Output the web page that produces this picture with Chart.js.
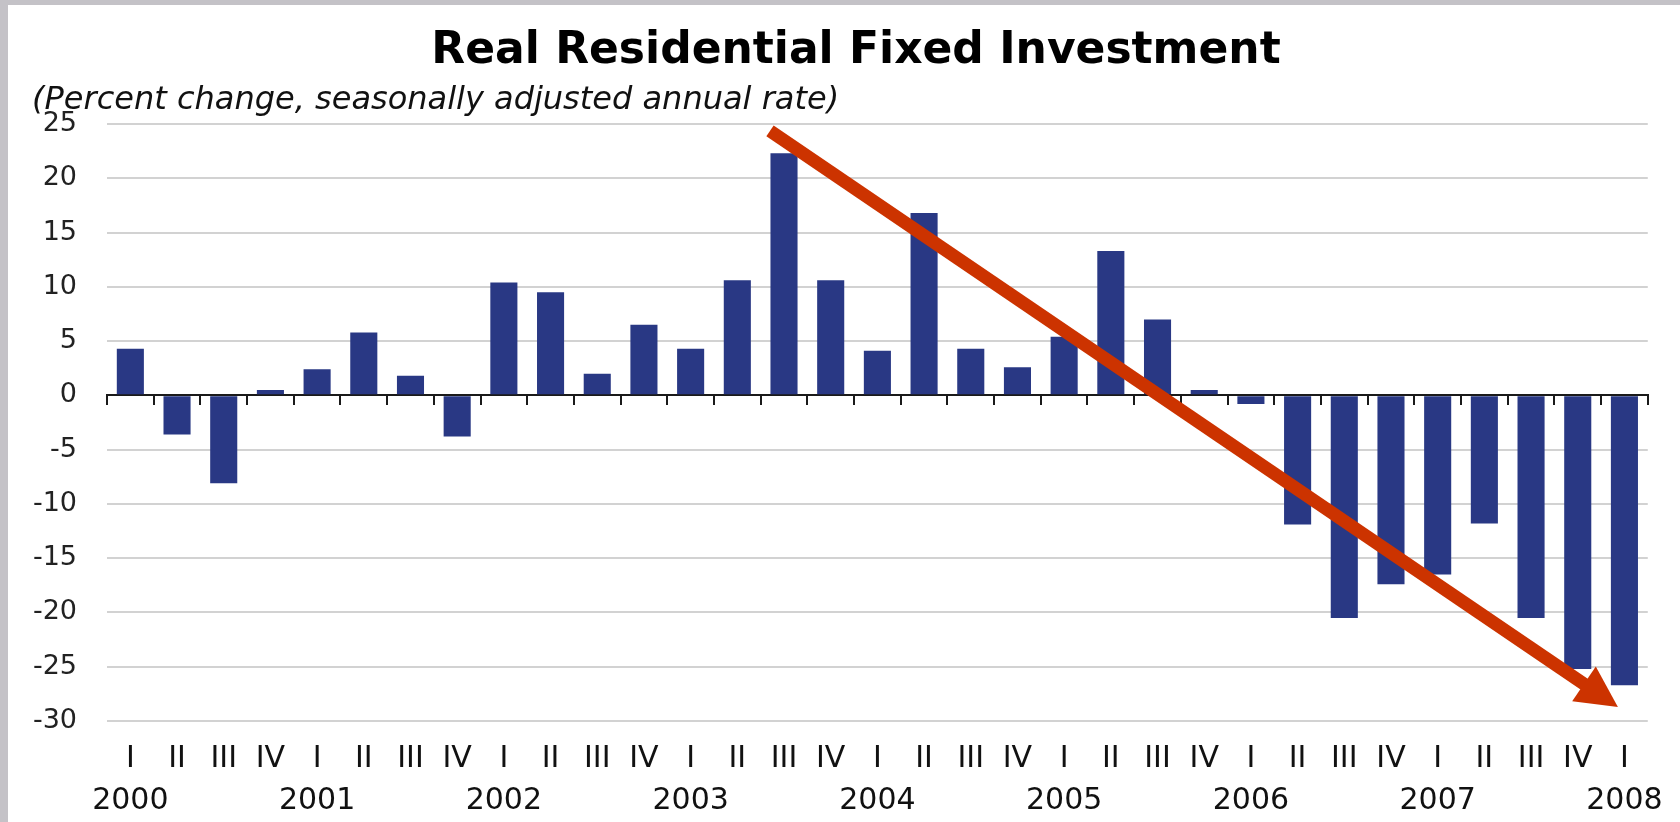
<!DOCTYPE html>
<html>
<head>
<meta charset="utf-8">
<script src="https://cdn.jsdelivr.net/npm/chart.js@4.4.1/dist/chart.umd.min.js"></script>
<style>
html,body{margin:0;padding:0;background:#C4C2C7;overflow:hidden;width:1680px;height:822px}
#wrap{position:absolute;left:8px;top:5px;width:1672px;height:817px;background:#ffffff}
canvas{display:block}
</style>
</head>
<body>
<div id="wrap"><canvas id="c" width="1672" height="817"></canvas></div>
<script>
// ---- data ----
const titleText = "Real Residential Fixed Investment";
const subtitleText = "(Percent change, seasonally adjusted annual rate)";
const quarterLabels = ["I","II","III","IV","I","II","III","IV","I","II","III","IV","I","II","III","IV",
  "I","II","III","IV","I","II","III","IV","I","II","III","IV","I","II","III","IV","I"];
const yearLabels = ["2000","","","","2001","","","","2002","","","","2003","","","",
  "2004","","","","2005","","","","2006","","","","2007","","","","2008"];
const values = [4.3,-3.6,-8.1,0.5, 2.4,5.8,1.8,-3.8, 10.4,9.5,2.0,6.5, 4.3,10.6,22.3,10.6,
  4.1,16.8,4.3,2.6, 5.4,13.3,7.0,0.5, -0.8,-11.9,-20.5,-17.4, -16.5,-11.8,-20.5,-25.2, -26.7];
const yMin = -30, yMax = 25, yStep = 5;
// trend arrow, in data coordinates [category index, value]
const arrowFrom = [13.70, 24.37];
const arrowTo = [31.86, -28.71];

const labels = quarterLabels.map((q, i) => yearLabels[i] ? [q, yearLabels[i]] : q);

const headerPlugin = {
  id: 'header',
  afterDraw(chart) {
    const ctx = chart.ctx;
    ctx.save();
    ctx.fillStyle = '#000';
    ctx.textAlign = 'center';
    ctx.textBaseline = 'middle';
    ctx.font = 'bold 44px "DejaVu Sans"';
    ctx.fillText(titleText, 848, 47);
    ctx.textAlign = 'left';
    ctx.font = 'oblique 32px "DejaVu Sans"';
    ctx.fillStyle = '#111';
    ctx.fillText(subtitleText, 24, 96);
    ctx.restore();
  }
};

const arrowPlugin = {
  id: 'trendArrow',
  afterDatasetsDraw(chart) {
    const {ctx, scales} = chart;
    const x0 = scales.x.getPixelForValue(arrowFrom[0]);
    const y0 = scales.y.getPixelForValue(arrowFrom[1]);
    const x1 = scales.x.getPixelForValue(arrowTo[0]);
    const y1 = scales.y.getPixelForValue(arrowTo[1]);
    const dx = x1 - x0, dy = y1 - y0, len = Math.hypot(dx, dy);
    const ux = dx / len, uy = dy / len, nx = -uy, ny = ux;
    const headLen = 41, headHalf = 21, shaft = 13;
    const bx = x1 - ux * headLen, by = y1 - uy * headLen;
    ctx.save();
    ctx.fillStyle = '#CC3300';
    ctx.beginPath();
    ctx.moveTo(x0 + nx * shaft / 2, y0 + ny * shaft / 2);
    ctx.lineTo(bx + ux * 2 + nx * shaft / 2, by + uy * 2 + ny * shaft / 2);
    ctx.lineTo(bx + ux * 2 - nx * shaft / 2, by + uy * 2 - ny * shaft / 2);
    ctx.lineTo(x0 - nx * shaft / 2, y0 - ny * shaft / 2);
    ctx.closePath();
    ctx.fill();
    ctx.beginPath();
    ctx.moveTo(x1, y1);
    ctx.lineTo(bx + nx * headHalf, by + ny * headHalf);
    ctx.lineTo(bx - nx * headHalf, by - ny * headHalf);
    ctx.closePath();
    ctx.fill();
    ctx.restore();
  }
};

new Chart(document.getElementById('c'), {
  type: 'bar',
  data: {
    labels: labels,
    datasets: [{
      data: values,
      backgroundColor: '#293884',
      borderWidth: 0,
      barPercentage: 0.58,
      categoryPercentage: 1.0,
      xAxisID: 'x',
      yAxisID: 'y'
    }]
  },
  options: {
    responsive: false,
    animation: false,
    devicePixelRatio: 1,
    layout: { padding: { top: 119, right: 26, left: 0, bottom: 0 } },
    plugins: {
      legend: { display: false },
      tooltip: { enabled: false },
      title: { display: false }
    },
    scales: {
      x: {
        type: 'category',
        position: 'bottom',
        offset: true,
        grid: { display: false, drawTicks: false, offset: true },
        border: { display: false },
        ticks: {
          autoSkip: false, maxRotation: 0, minRotation: 0,
          color: '#111',
          padding: 17,
          font: { family: '"DejaVu Sans"', size: 30, lineHeight: 1.4 }
        },
        afterFit(scale) { scale.height = 101; }
      },
      x2: {
        type: 'category',
        position: { y: 0 },
        offset: true,
        grid: { offset: true, drawOnChartArea: false, drawTicks: true, tickLength: 9, color: '#1a1a1a', lineWidth: 2 },
        border: { display: true, color: '#1a1a1a', width: 2 },
        ticks: { display: false }
      },
      y: {
        type: 'linear',
        min: yMin, max: yMax,
        grid: { color: '#D2D2D2', lineWidth: 2, drawTicks: false },
        border: { display: false },
        ticks: {
          stepSize: yStep,
          color: '#222',
          padding: 30,
          font: { family: '"DejaVu Sans"', size: 27 }
        },
        afterFit(scale) { scale.width = 99; }
      }
    }
  },
  plugins: [headerPlugin, arrowPlugin]
});
</script>
</body>
</html>
